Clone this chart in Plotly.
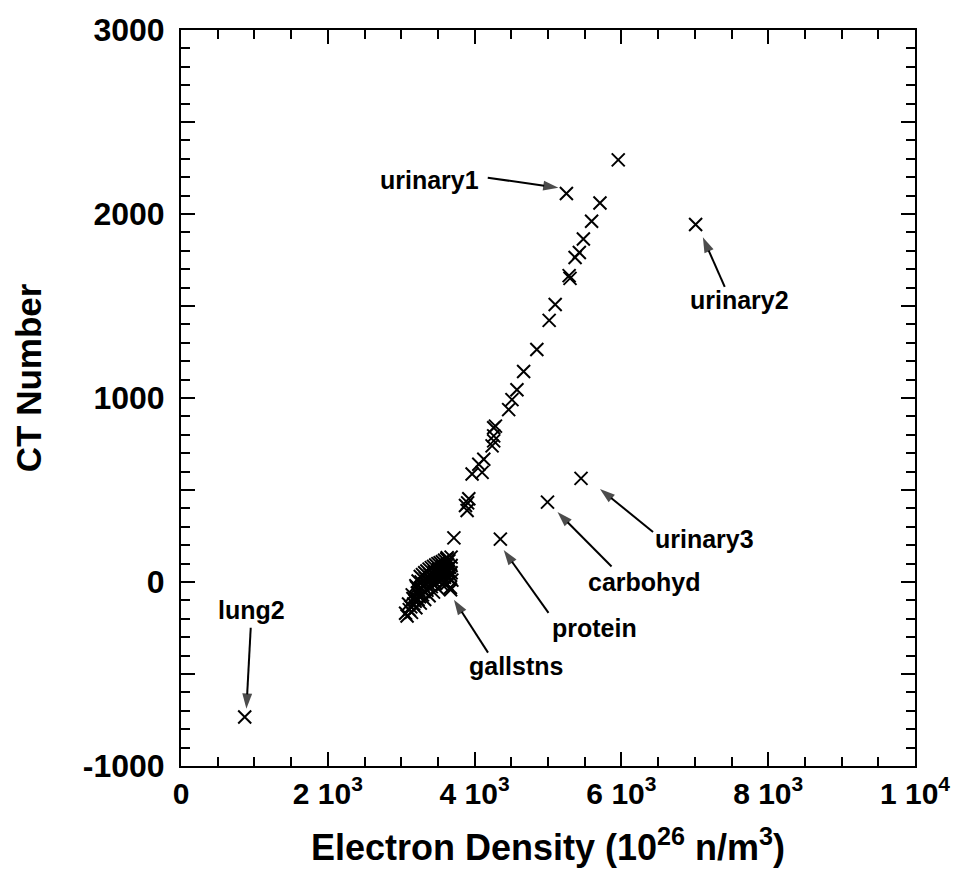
import plotly.graph_objects as go

# Tissue / material measurements: electron density vs CT number
line_x = [3627, 3718, 3876, 3898, 3921, 3905, 3966, 4057, 4102, 4125,
          4238, 4260, 4260, 4284, 4260, 4464, 4509, 4577, 4668, 4848,
          5016, 5098, 5288, 5300, 5369, 5427, 5482, 5594, 5708, 5957]
line_y = [132, 240, 416, 389, 452, 430, 587, 640, 596, 667,
          740, 794, 767, 847, 838, 937, 991, 1045, 1144, 1264,
          1422, 1508, 1665, 1650, 1764, 1791, 1864, 1961, 2060, 2294]

# Dense group of soft tissues around CT number 0
cluster_x = [3200, 3260, 3320, 3380, 3440, 3500, 3560, 3620, 3680,
             3230, 3290, 3350, 3410, 3470, 3530, 3590, 3650,
             3150, 3210, 3270, 3330, 3390, 3450, 3510, 3570, 3630, 3680,
             3180, 3240, 3300, 3360, 3420, 3480, 3540, 3600, 3660,
             3100, 3160, 3220, 3280, 3340, 3400, 3460, 3520, 3580, 3640, 3680,
             3130, 3190, 3250, 3310, 3370, 3430, 3490, 3550, 3610, 3670,
             3060, 3110, 3170, 3230, 3290, 3350, 3410, 3470, 3530, 3590, 3650, 3690,
             3080, 3140, 3200, 3260, 3320, 3380, 3440, 3500, 3560, 3620, 3670]
cluster_y = [-20, 30, 50, 70, 85, 100, 110, 125, 135,
             5, 40, 60, 78, 92, 105, 118, 115,
             -70, -30, 0, 20, 40, 55, 70, 85, 95, 90,
             -95, -45, -18, 5, 25, 48, 62, 75, 80,
             -120, -90, -60, -35, -10, 10, 30, 45, 60, 60, 50,
             -135, -105, -80, -52, -28, -8, 12, 30, 42, 38,
             -170, -150, -120, -95, -70, -45, -25, -5, 15, 25, 20, 10,
             -185, -165, -140, -115, -95, -75, -55, -35, -15, -10, -30]

# Labelled outliers
label_names = ["urinary1", "urinary2", "urinary3", "carbohyd", "protein", "gallstns", "lung2"]
label_x = [5251, 7011, 5450, 4993, 4351, 3673, 868]
label_y = [2111, 1943, 563, 434, 233, -42, -734]

# Label text centres and arrow geometry (data units)
text_x = [3379, 7612, 7133, 6319, 5640, 4559, 959]
text_y = [2186, 1534, 236, -1, -249, -456, -150]
arrow_tail_x = [4179, 7408, 6431, 5866, 5007, 4183, 950]
arrow_tail_y = [2197, 1604, 272, 84, -168, -384, -249]
arrow_head_x = [5142, 7110, 5708, 5129, 4396, 3718, 891]
arrow_head_y = [2143, 1873, 506, 380, 174, -96, -689]

x_tickvals = [0, 2000, 4000, 6000, 8000, 10000]
x_ticktext = ["0", "2 10<sup>3</sup>", "4 10<sup>3</sup>", "6 10<sup>3</sup>",
              "8 10<sup>3</sup>", "1 10<sup>4</sup>"]
y_tickvals = [-1000, 0, 1000, 2000, 3000]
y_ticktext = ["-1000", "0", "1000", "2000", "3000"]
y_half_ticks = [-500, 500, 1500, 2500]

FONT = "Liberation Sans, Arial, Helvetica, sans-serif"
Y_RANGE = [-1000, 3000]

all_x = line_x + cluster_x + label_x
all_y = line_y + cluster_y + label_y

fig = go.Figure()
fig.add_trace(go.Scatter(
    x=all_x, y=all_y, mode="markers",
    marker=dict(symbol="x-thin", size=13, color="black",
                line=dict(color="black", width=2)),
    showlegend=False, hoverinfo="x+y",
))

# Pointer arrows from each label to its point (drawn on the twin y axis,
# which shares the same range and carries the half-step ticks)
for i in range(len(label_names)):
    fig.add_trace(go.Scatter(
        x=[arrow_tail_x[i], arrow_head_x[i]],
        y=[arrow_tail_y[i], arrow_head_y[i]],
        yaxis="y2",
        mode="lines+markers",
        line=dict(color="black", width=2),
        marker=dict(symbol="arrow", size=[0, 16], angleref="previous",
                    color="black", line=dict(width=0)),
        showlegend=False, hoverinfo="skip",
    ))

annotations = []
for i, name in enumerate(label_names):
    annotations.append(dict(
        x=text_x[i], y=text_y[i], xref="x", yref="y",
        text=name, showarrow=False,
        font=dict(family=FONT, size=25, color="black", weight="bold"),
        xanchor="center", yanchor="middle",
    ))

# Vertical axis title
annotations.append(dict(
    x=-0.2076, y=0.5277, xref="paper", yref="paper",
    text="CT Number", textangle=-90, showarrow=False,
    font=dict(family=FONT, size=35, color="black", weight="bold"),
    xanchor="center", yanchor="middle",
))

axis_common = dict(
    showgrid=False, zeroline=False, showline=True, linecolor="black",
    linewidth=2, mirror="ticks", ticks="inside", ticklen=14, tickwidth=2,
    tickcolor="black",
)

fig.update_layout(
    width=962, height=878,
    margin=dict(l=181, r=44, t=25, b=112),
    paper_bgcolor="white", plot_bgcolor="white",
    annotations=annotations,
    xaxis=dict(
        range=[0, 10000], tickmode="array", tickvals=x_tickvals, ticktext=x_ticktext,
        minor=dict(tickmode="linear", tick0=0, dtick=500, ticks="inside",
                   ticklen=9, tickwidth=2, tickcolor="black"),
        tickfont=dict(family=FONT, size=30, color="black", weight="bold"),
        title=dict(text="Electron Density (10<sup>26</sup> n/m<sup>3</sup>)",
                   font=dict(family=FONT, size=36, color="black", weight="bold"),
                   standoff=26),
        **axis_common,
    ),
    yaxis=dict(
        range=Y_RANGE, tickmode="array", tickvals=y_tickvals, ticktext=y_ticktext,
        ticklabelstandoff=8,
        minor=dict(tickmode="linear", tick0=0, dtick=100, ticks="inside",
                   ticklen=9, tickwidth=2, tickcolor="black"),
        tickfont=dict(family=FONT, size=32, color="black", weight="bold"),
        **axis_common,
    ),
    yaxis2=dict(
        range=Y_RANGE, overlaying="y", side="left", anchor="x",
        tickmode="array", tickvals=y_half_ticks, showticklabels=False,
        **axis_common,
    ),
)

fig.write_html("out.html")
